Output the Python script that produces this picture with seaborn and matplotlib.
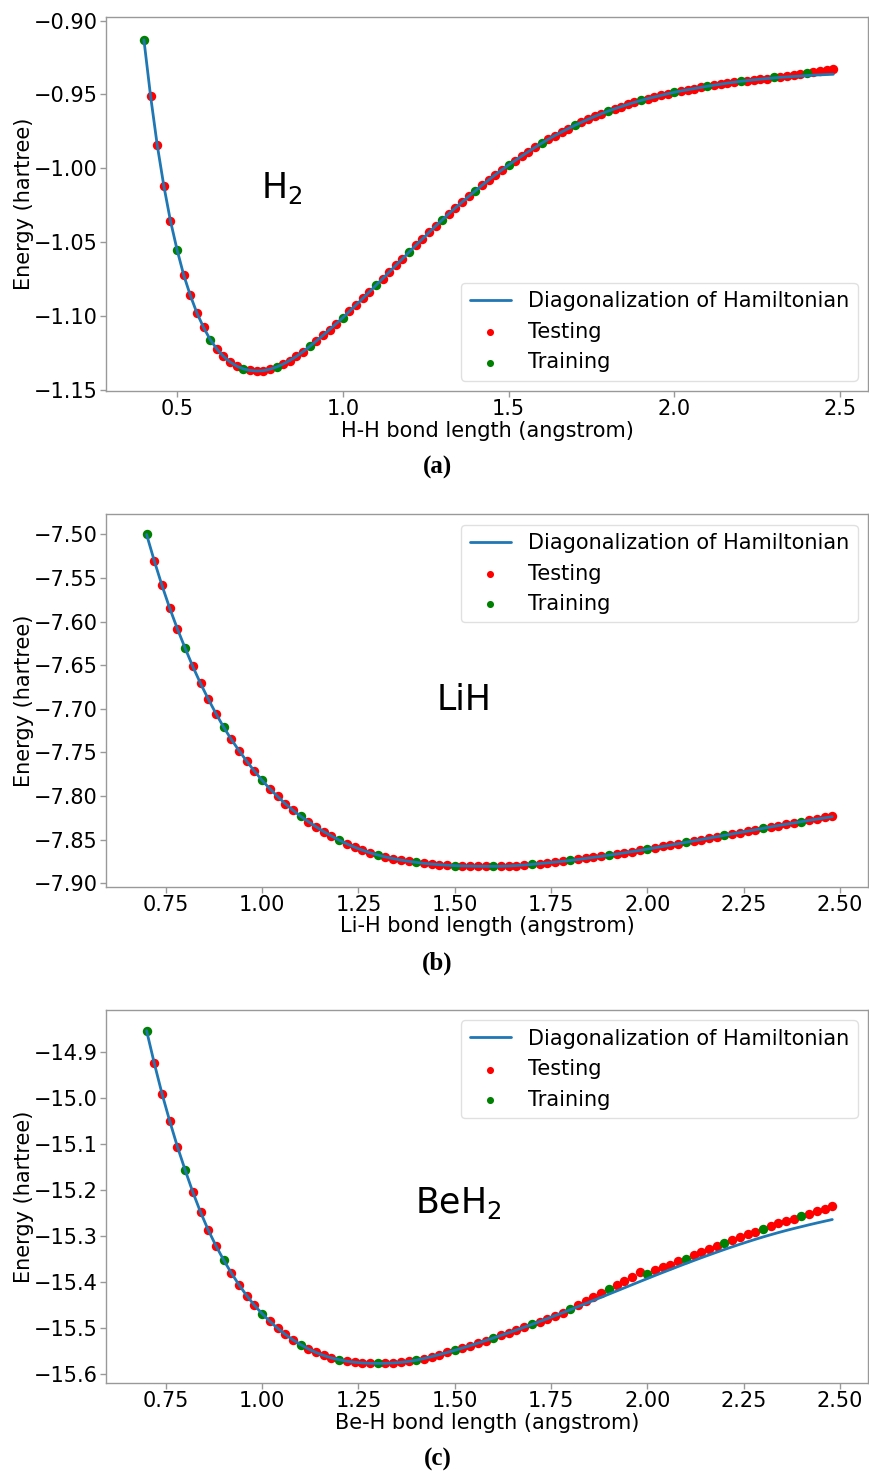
import numpy as np
import pandas as pd
import matplotlib
matplotlib.use("Agg")
import matplotlib.pyplot as plt
import seaborn as sns

# ---------------- data ----------------
h2_bond = np.round(np.arange(0.40, 2.4801, 0.02), 2)
h2_exact = [
    -0.9130, -0.9509, -0.9840, -1.0118, -1.0355, -1.0551, -1.0722, -1.0860, -1.0980, -1.1077,
    -1.1160, -1.1223, -1.1273, -1.1311, -1.1339, -1.1358, -1.1368, -1.1372, -1.1370, -1.1360,
    -1.1345, -1.1325, -1.1301, -1.1273, -1.1241, -1.1206, -1.1169, -1.1131, -1.1092, -1.1052,
    -1.1011, -1.0968, -1.0925, -1.0881, -1.0837, -1.0792, -1.0747, -1.0702, -1.0657, -1.0612,
    -1.0567, -1.0522, -1.0478, -1.0434, -1.0391, -1.0349, -1.0307, -1.0267, -1.0228, -1.0190,
    -1.0152, -1.0115, -1.0079, -1.0044, -1.0010, -0.9978, -0.9947, -0.9917, -0.9887, -0.9858,
    -0.9830, -0.9803, -0.9778, -0.9754, -0.9731, -0.9709, -0.9688, -0.9668, -0.9649, -0.9630,
    -0.9613, -0.9597, -0.9582, -0.9567, -0.9553, -0.9540, -0.9528, -0.9517, -0.9506, -0.9495,
    -0.9485, -0.9476, -0.9468, -0.9460, -0.9452, -0.9444, -0.9437, -0.9430, -0.9423, -0.9417,
    -0.9411, -0.9406, -0.9401, -0.9396, -0.9392, -0.9388, -0.9384, -0.9381, -0.9378, -0.9375,
    -0.9372, -0.9369, -0.9367, -0.9365, -0.9363,
]
h2_predicted = [
    -0.9130, -0.9509, -0.9840, -1.0118, -1.0355, -1.0551, -1.0722, -1.0860, -1.0980, -1.1077,
    -1.1160, -1.1223, -1.1273, -1.1311, -1.1339, -1.1358, -1.1368, -1.1372, -1.1370, -1.1360,
    -1.1345, -1.1325, -1.1301, -1.1273, -1.1241, -1.1206, -1.1169, -1.1131, -1.1092, -1.1052,
    -1.1011, -1.0968, -1.0925, -1.0881, -1.0837, -1.0792, -1.0747, -1.0702, -1.0657, -1.0612,
    -1.0567, -1.0522, -1.0478, -1.0434, -1.0391, -1.0349, -1.0307, -1.0267, -1.0228, -1.0190,
    -1.0152, -1.0115, -1.0079, -1.0044, -1.0010, -0.9978, -0.9947, -0.9917, -0.9887, -0.9858,
    -0.9830, -0.9803, -0.9778, -0.9754, -0.9731, -0.9709, -0.9688, -0.9668, -0.9649, -0.9630,
    -0.9613, -0.9597, -0.9582, -0.9567, -0.9553, -0.9540, -0.9528, -0.9517, -0.9506, -0.9495,
    -0.9485, -0.9476, -0.9468, -0.9460, -0.9452, -0.9444, -0.9437, -0.9430, -0.9423, -0.9417,
    -0.9411, -0.9406, -0.9401, -0.9396, -0.9392, -0.9385, -0.9380, -0.9376, -0.9370, -0.9362,
    -0.9352, -0.9346, -0.9340, -0.9335, -0.9328,
]

lih_bond = np.round(np.arange(0.70, 2.4801, 0.02), 2)
lih_exact = [
    -7.5000, -7.5303, -7.5585, -7.5845, -7.6083, -7.6304, -7.6515, -7.6709, -7.6887, -7.7055,
    -7.7210, -7.7352, -7.7480, -7.7602, -7.7716, -7.7822, -7.7918, -7.8006, -7.8090, -7.8164,
    -7.8234, -7.8295, -7.8354, -7.8410, -7.8460, -7.8507, -7.8550, -7.8588, -7.8622, -7.8652,
    -7.8678, -7.8700, -7.8719, -7.8736, -7.8750, -7.8762, -7.8773, -7.8782, -7.8789, -7.8795,
    -7.8800, -7.8803, -7.8805, -7.8807, -7.8808, -7.8808, -7.8807, -7.8804, -7.8799, -7.8793,
    -7.8785, -7.8777, -7.8768, -7.8759, -7.8750, -7.8740, -7.8729, -7.8717, -7.8705, -7.8693,
    -7.8680, -7.8667, -7.8653, -7.8639, -7.8625, -7.8610, -7.8595, -7.8580, -7.8564, -7.8548,
    -7.8532, -7.8516, -7.8500, -7.8484, -7.8468, -7.8452, -7.8436, -7.8420, -7.8404, -7.8388,
    -7.8372, -7.8356, -7.8340, -7.8325, -7.8310, -7.8295, -7.8280, -7.8266, -7.8252, -7.8238,
]
lih_predicted = [
    -7.5000, -7.5303, -7.5585, -7.5845, -7.6083, -7.6304, -7.6515, -7.6709, -7.6887, -7.7055,
    -7.7210, -7.7352, -7.7480, -7.7602, -7.7716, -7.7822, -7.7918, -7.8006, -7.8090, -7.8164,
    -7.8234, -7.8295, -7.8354, -7.8410, -7.8460, -7.8507, -7.8550, -7.8588, -7.8622, -7.8652,
    -7.8678, -7.8700, -7.8719, -7.8736, -7.8750, -7.8762, -7.8773, -7.8782, -7.8789, -7.8795,
    -7.8800, -7.8803, -7.8805, -7.8807, -7.8808, -7.8808, -7.8807, -7.8804, -7.8799, -7.8793,
    -7.8785, -7.8777, -7.8768, -7.8759, -7.8750, -7.8740, -7.8729, -7.8717, -7.8705, -7.8693,
    -7.8680, -7.8667, -7.8653, -7.8639, -7.8625, -7.8610, -7.8595, -7.8580, -7.8564, -7.8548,
    -7.8532, -7.8516, -7.8500, -7.8484, -7.8468, -7.8452, -7.8436, -7.8420, -7.8404, -7.8388,
    -7.8372, -7.8356, -7.8340, -7.8325, -7.8310, -7.8295, -7.8280, -7.8266, -7.8245, -7.8228,
]

beh2_bond = np.round(np.arange(0.70, 2.4801, 0.02), 2)
beh2_exact = [
    -14.8537, -14.9246, -14.9906, -15.0500, -15.1058, -15.1565, -15.2045, -15.2480, -15.2870, -15.3212,
    -15.3522, -15.3805, -15.4063, -15.4297, -15.4508, -15.4690, -15.4857, -15.5006, -15.5140, -15.5259,
    -15.5363, -15.5455, -15.5533, -15.5598, -15.5652, -15.5690, -15.5722, -15.5745, -15.5760, -15.5768,
    -15.5770, -15.5768, -15.5760, -15.5747, -15.5727, -15.5700, -15.5664, -15.5623, -15.5579, -15.5533,
    -15.5485, -15.5435, -15.5383, -15.5329, -15.5274, -15.5218, -15.5161, -15.5103, -15.5044, -15.4984,
    -15.4923, -15.4861, -15.4798, -15.4734, -15.4669, -15.4603, -15.4536, -15.4469, -15.4401, -15.4333,
    -15.4265, -15.4197, -15.4129, -15.4061, -15.3993, -15.3926, -15.3859, -15.3793, -15.3728, -15.3663,
    -15.3599, -15.3536, -15.3474, -15.3413, -15.3353, -15.3294, -15.3237, -15.3181, -15.3127, -15.3074,
    -15.3023, -15.2974, -15.2927, -15.2882, -15.2839, -15.2798, -15.2757, -15.2718, -15.2680, -15.2643,
]
beh2_predicted = [
    -14.8537, -14.9246, -14.9906, -15.0500, -15.1058, -15.1565, -15.2045, -15.2480, -15.2870, -15.3212,
    -15.3522, -15.3805, -15.4063, -15.4297, -15.4508, -15.4690, -15.4857, -15.5006, -15.5140, -15.5259,
    -15.5363, -15.5455, -15.5533, -15.5598, -15.5652, -15.5690, -15.5722, -15.5745, -15.5760, -15.5768,
    -15.5770, -15.5768, -15.5760, -15.5747, -15.5727, -15.5700, -15.5664, -15.5623, -15.5579, -15.5533,
    -15.5485, -15.5435, -15.5383, -15.5329, -15.5274, -15.5218, -15.5161, -15.5103, -15.5044, -15.4984,
    -15.4923, -15.4861, -15.4798, -15.4734, -15.4669, -15.4580, -15.4490, -15.4406, -15.4320, -15.4232,
    -15.4145, -15.4072, -15.3971, -15.3884, -15.3775, -15.3819, -15.3739, -15.3680, -15.3623, -15.3543,
    -15.3493, -15.3406, -15.3348, -15.3283, -15.3217, -15.3145, -15.3087, -15.3022, -15.2964, -15.2906,
    -15.2855, -15.2790, -15.2725, -15.2667, -15.2630, -15.2565, -15.2515, -15.2464, -15.2406, -15.2348,
]

molecule_names = [r"H$_2$", "LiH", r"BeH$_2$"]
xlabels = ["H-H bond length (angstrom)", "Li-H bond length (angstrom)",
           "Be-H bond length (angstrom)"]
panel_tags = ["a", "b", "c"]
legend_labels = ["Diagonalization of Hamiltonian", "Testing", "Training"]

h2_xticks = [0.5, 1.0, 1.5, 2.0, 2.5]
h2_yticks = [-1.15, -1.10, -1.05, -1.00, -0.95, -0.90]
lih_xticks = [0.75, 1.00, 1.25, 1.50, 1.75, 2.00, 2.25, 2.50]
lih_yticks = [-7.90, -7.85, -7.80, -7.75, -7.70, -7.65, -7.60, -7.55, -7.50]
beh2_xticks = [0.75, 1.00, 1.25, 1.50, 1.75, 2.00, 2.25, 2.50]
beh2_yticks = [-15.6, -15.5, -15.4, -15.3, -15.2, -15.1, -15.0, -14.9]

# ---------------- style ----------------
sns.set_style("white")
plt.rcParams["font.family"] = ["DejaVu Sans"]
plt.rcParams["text.color"] = "black"
plt.rcParams["axes.labelcolor"] = "black"
plt.rcParams["xtick.labelcolor"] = "black"
plt.rcParams["ytick.labelcolor"] = "black"
plt.rcParams["axes.edgecolor"] = "0.6"
plt.rcParams["axes.linewidth"] = 1.0

FS = 15

fig = plt.figure(figsize=(8.7, 14.73), dpi=100)

panels = [
    dict(bond=h2_bond, exact=h2_exact, pred=h2_predicted,
         rect=[0.1218, 0.7346, 0.8759, 0.2537],
         xlim=(0.2855, 2.5845), ylim=(-1.1507, -0.8977),
         xticks=h2_xticks, yticks=h2_yticks, ydec=2, legend_loc="lower right",
         name_pos=(0.754, -1.0199), tag_y=1 - 467 / 1473),
    dict(bond=lih_bond, exact=lih_exact, pred=lih_predicted,
         rect=[0.1218, 0.3980, 0.8759, 0.2528],
         xlim=(0.5946, 2.5727), ylim=(-7.9042, -7.4770),
         xticks=lih_xticks, yticks=lih_yticks, ydec=2, legend_loc="upper right",
         name_pos=(1.452, -7.7015), tag_y=1 - 963 / 1473),
    dict(bond=beh2_bond, exact=beh2_exact, pred=beh2_predicted,
         rect=[0.1218, 0.0611, 0.8759, 0.2532],
         xlim=(0.5946, 2.5727), ylim=(-15.6196, -14.809),
         xticks=beh2_xticks, yticks=beh2_yticks, ydec=1, legend_loc="upper right",
         name_pos=(1.397, -15.250), tag_y=1 - 1459 / 1473),
]

for i, p in enumerate(panels):
    ax = fig.add_axes(p["rect"])
    df = pd.DataFrame({"bond": p["bond"], "exact": p["exact"], "pred": p["pred"]})
    train_mask = (np.round(df["bond"] * 100).astype(int) % 10) == 0
    df_test = df[~train_mask]
    df_train = df[train_mask]

    sns.lineplot(data=df, x="bond", y="exact", ax=ax, color="#1f77b4",
                 linewidth=2.0, label=legend_labels[0], zorder=3)
    sns.scatterplot(data=df_test, x="bond", y="pred", ax=ax, color="red",
                    s=46, linewidth=0, label=legend_labels[1], zorder=2)
    sns.scatterplot(data=df_train, x="bond", y="pred", ax=ax, color="green",
                    s=46, linewidth=0, label=legend_labels[2], zorder=2)

    ax.set_xlim(*p["xlim"])
    ax.set_ylim(*p["ylim"])
    ax.set_xticks(p["xticks"])
    ax.set_yticks(p["yticks"])
    ax.set_yticklabels([(("%." + str(p["ydec"]) + "f") % v).replace("-", "\u2212")
                        for v in p["yticks"]])
    ax.set_xlabel(xlabels[i], fontsize=FS, labelpad=1)
    ax.set_ylabel("Energy (hartree)", fontsize=FS, labelpad=0)
    ax.tick_params(axis="both", which="major", labelsize=FS, length=4,
                   width=1, color="0.6", labelcolor="black", direction="out",
                   left=True, bottom=True, pad=2)
    for sp in ax.spines.values():
        sp.set_visible(True)
        sp.set_color("0.6")

    leg = ax.legend(loc=p["legend_loc"], fontsize=FS, frameon=True,
                    handlelength=2.0, markerscale=0.75)
    leg.get_frame().set_edgecolor("0.85")
    for t in leg.get_texts():
        t.set_color("black")

    ax.text(p["name_pos"][0], p["name_pos"][1], molecule_names[i],
            fontsize=25, ha="left", va="baseline", color="black")

    fig.text(0.503, p["tag_y"], "(" + panel_tags[i] + ")", ha="center",
             va="center", fontsize=18, fontweight="bold", color="black",
             family=["Liberation Serif", "DejaVu Serif"])

fig.savefig("out.png", dpi=100)
